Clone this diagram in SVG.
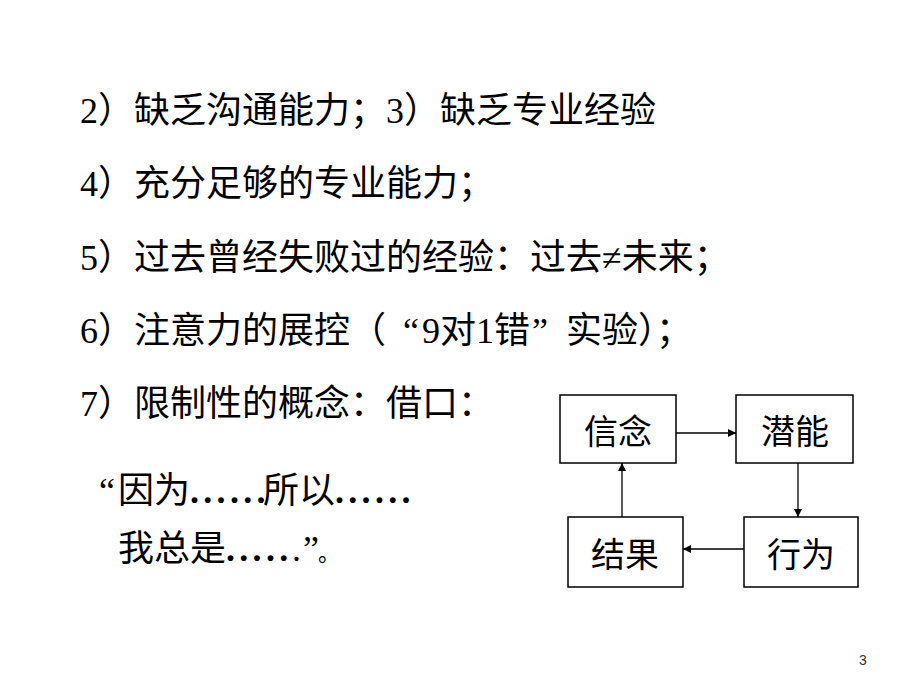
<svg xmlns="http://www.w3.org/2000/svg" width="920" height="690" viewBox="0 0 920 690">
<defs>
<style>
.t{font-family:"Liberation Serif","Noto Sans CJK SC",serif;font-size:36px;fill:#000}
.dots{letter-spacing:4.3px;font-weight:bold}
.box{fill:#fff;stroke:#000;stroke-width:1.5}
.lbl{font-family:"Noto Sans CJK SC","Liberation Sans",sans-serif;font-size:34px;fill:#000;text-anchor:middle;dominant-baseline:central}
.ln{stroke:#000;stroke-width:1.3;fill:none;marker-end:url(#ah)}
.pg{font-family:"Liberation Sans","Noto Sans",sans-serif;font-size:14px;fill:#333}
</style>
<marker id="ah" viewBox="0 0 10 10" refX="10" refY="5" markerWidth="8" markerHeight="8" markerUnits="userSpaceOnUse" orient="auto">
<path d="M0,0 L10,5 L0,10 z" fill="#000"/>
</marker>
</defs>
<rect width="920" height="690" fill="#fff"/>
<g id="text">
<text class="t" x="80" y="123">2）缺乏沟通能力；3）缺乏专业经验</text>
<text class="t" x="80" y="196">4）充分足够的专业能力；</text>
<text class="t" x="80" y="270">5）过去曾经失败过的经验：过去≠未来；</text>
<text class="t" y="343"><tspan x="80">6）注意力的展控（</tspan><tspan x="403">“</tspan><tspan x="422">9对1错</tspan><tspan x="532">”</tspan><tspan x="566">实验）；</tspan></text>
<text class="t" x="80" y="416">7）限制性的概念：借口：</text>
<text class="t" y="503"><tspan x="99">“</tspan><tspan x="118">因为</tspan><tspan class="dots" x="190">......</tspan><tspan x="263">所以</tspan><tspan class="dots" x="335">......</tspan></text>
<text class="t" y="561"><tspan x="118">我总是</tspan><tspan class="dots" x="226">.....</tspan><tspan x="292">.</tspan><tspan x="303">”</tspan><tspan x="318" font-size="22">。</tspan></text>
</g>
<g id="connectors">
<line class="ln" x1="676" y1="433" x2="736" y2="433"/>
<line class="ln" x1="798" y1="463" x2="798" y2="517"/>
<line class="ln" x1="744" y1="549" x2="683" y2="549"/>
<line class="ln" x1="622" y1="517" x2="622" y2="463"/>
</g>
<g id="n-xinnian">
<rect class="box" x="560" y="395" width="116" height="68"/>
<text class="lbl" x="618" y="429">信念</text>
</g>
<g id="n-qianneng">
<rect class="box" x="736" y="395" width="117" height="68"/>
<text class="lbl" x="795" y="429">潜能</text>
</g>
<g id="n-jieguo">
<rect class="box" x="568" y="517" width="115" height="70"/>
<text class="lbl" x="625" y="552">结果</text>
</g>
<g id="n-xingwei">
<rect class="box" x="744" y="517" width="114" height="70"/>
<text class="lbl" x="801" y="552">行为</text>
</g>
<text class="pg" x="859" y="665">3</text>
</svg>
